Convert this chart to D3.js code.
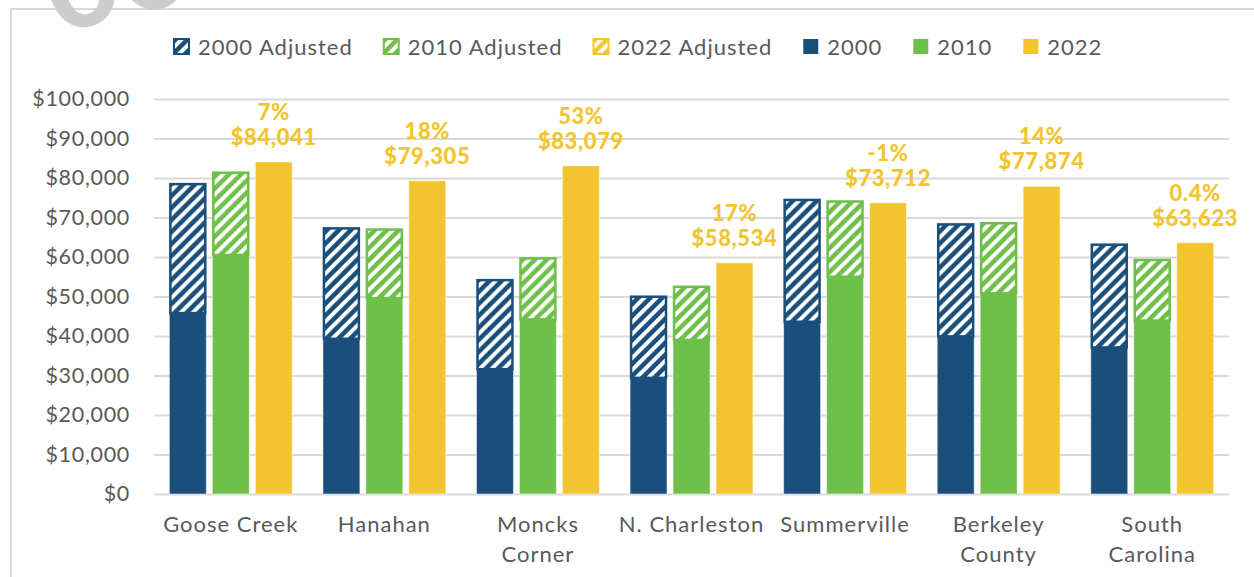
<!DOCTYPE html>
<html>
<head>
<meta charset="utf-8">
<script src="https://cdn.jsdelivr.net/npm/d3@7"></script>
<style>
  body { margin: 0; background: #fff; }
  svg { display: block; font-family: Lato, "Open Sans", sans-serif; }
</style>
</head>
<body>
<div id="chart"></div>
<script>
// data
var categories = ["Goose Creek", "Hanahan", "Moncks Corner", "N. Charleston", "Summerville", "Berkeley County", "South Carolina"];
var nominal2000 = [45800, 39300, 31600, 29400, 43600, 39900, 37100];
var adjusted2000 = [78700, 67500, 54400, 50200, 74700, 68500, 63370];
var nominal2010 = [60500, 49600, 44200, 39000, 55000, 50800, 43900];
var adjusted2010 = [81600, 67200, 59900, 52700, 74300, 68800, 59500];
var value2022 = [84041, 79305, 83079, 58534, 73712, 77874, 63623];
var changeLabels = ["7%", "18%", "53%", "17%", "-1%", "14%", "0.4%"];
var yTicks = [0, 10000, 20000, 30000, 40000, 50000, 60000, 70000, 80000, 90000, 100000];
var seriesKeys = ["2000", "2010", "2022"];
var legendKeys = ["2000 Adjusted", "2010 Adjusted", "2022 Adjusted", "2000", "2010", "2022"];

var colors = {"2000": "#1a4e7b", "2010": "#6fbf4b", "2022": "#f2c52e"};
var gridColor = "#d9d9d9";
var textColor = "#595959";

var svg = d3.select("#chart")
  .append("svg")
  .attr("width", 1254)
  .attr("height", 577);

// hatch patterns, one per colour
var defs = svg.append("defs");
seriesKeys.forEach(function(k) {
  var p = defs.append("pattern")
    .attr("id", "hatch" + k)
    .attr("patternUnits", "userSpaceOnUse")
    .attr("width", 12)
    .attr("height", 12);
  p.append("rect").attr("width", 12).attr("height", 12).attr("fill", colors[k]);
  p.append("path")
    .attr("d", "M-3,3 l6,-6 M0,12 l12,-12 M9,15 l6,-6")
    .attr("stroke", "#fff")
    .attr("stroke-width", 4);
});

// outer frame
svg.append("rect")
  .attr("x", 11).attr("y", 9)
  .attr("width", 1300).attr("height", 600)
  .attr("fill", "none")
  .attr("stroke", gridColor)
  .attr("stroke-width", 2);

var x0 = d3.scaleBand()
  .domain(categories)
  .range([154, 1229])
  .paddingInner(0.2)
  .paddingOuter(0.1);

var x1 = d3.scaleBand()
  .domain(seriesKeys)
  .range([0, x0.bandwidth()])
  .paddingInner(0.14);

var y = d3.scaleLinear()
  .domain([0, 100000])
  .range([494, 99]);

// gridlines + y labels
var yAxis = svg.append("g")
  .attr("transform", "translate(154,0)")
  .call(d3.axisLeft(y)
    .tickValues(yTicks)
    .tickSize(-(1229 - 154))
    .tickPadding(24)
    .tickFormat(function(d) { return "$" + d3.format(",")(d); }));
yAxis.select(".domain").remove();
yAxis.selectAll(".tick line").attr("stroke", gridColor).attr("stroke-width", 2);
yAxis.selectAll(".tick text")
  .attr("fill", textColor)
  .attr("font-size", 21.5)
  .attr("letter-spacing", 0.7)
  .attr("font-family", "Lato, sans-serif");

// bar data
var rows = categories.map(function(c, i) {
  return {
    cat: c,
    bars: [
      {key: "2000", nominal: nominal2000[i], adjusted: adjusted2000[i]},
      {key: "2010", nominal: nominal2010[i], adjusted: adjusted2010[i]},
      {key: "2022", nominal: value2022[i], adjusted: value2022[i]}
    ]
  };
});

var groups = svg.selectAll("g.grp")
  .data(rows)
  .enter()
  .append("g")
  .attr("class", "grp")
  .attr("transform", function(d) { return "translate(" + x0(d.cat) + ",0)"; });

// solid part
groups.selectAll("rect.solid")
  .data(function(d) { return d.bars; })
  .enter()
  .append("rect")
  .attr("class", "solid")
  .attr("x", function(d) { return x1(d.key); })
  .attr("width", x1.bandwidth())
  .attr("y", function(d) { return y(d.nominal); })
  .attr("height", function(d) { return y(0) - y(d.nominal); })
  .attr("fill", function(d) { return colors[d.key]; })
  .attr("stroke", "#fff")
  .attr("stroke-opacity", 0.5)
  .attr("stroke-width", 1);

// hatched (inflation-adjusted) part
groups.selectAll("rect.adj")
  .data(function(d) { return d.bars.filter(function(b) { return b.adjusted > b.nominal; }); })
  .enter()
  .append("rect")
  .attr("class", "adj")
  .attr("x", function(d) { return x1(d.key) + 1; })
  .attr("width", x1.bandwidth() - 2)
  .attr("y", function(d) { return y(d.adjusted) + 1; })
  .attr("height", function(d) { return y(d.nominal) - y(d.adjusted) - 1; })
  .attr("fill", function(d) { return "url(#hatch" + d.key + ")"; })
  .attr("stroke", function(d) { return colors[d.key]; })
  .attr("stroke-width", 2.5);

// labels above 2022 bars
groups.append("text")
  .attr("x", x1("2022") + x1.bandwidth() / 2)
  .attr("y", function(d, i) { return y(value2022[i]) - 17; })
  .attr("text-anchor", "middle")
  .attr("font-size", 22)
  .attr("font-weight", 900)
  .attr("letter-spacing", 0.6)
  .attr("fill", colors["2022"])
  .text(function(d, i) { return "$" + d3.format(",")(value2022[i]); });

groups.append("text")
  .attr("x", x1("2022") + x1.bandwidth() / 2)
  .attr("y", function(d, i) { return y(value2022[i]) - 42; })
  .attr("text-anchor", "middle")
  .attr("font-size", 22)
  .attr("font-weight", 900)
  .attr("letter-spacing", 0.6)
  .attr("fill", colors["2022"])
  .text(function(d, i) { return changeLabels[i]; });

// category labels (wrap two-word names, except short ones)
var singleLine = ["Goose Creek", "N. Charleston"];
groups.each(function(d) {
  var g = d3.select(this);
  var lines = singleLine.indexOf(d.cat) >= 0 ? [d.cat] : d.cat.split(" ");
  var t = g.append("text")
    .attr("text-anchor", "middle")
    .attr("font-size", 22)
    .attr("letter-spacing", 1)
    .attr("fill", textColor);
  lines.forEach(function(l, j) {
    t.append("tspan")
      .attr("x", x0.bandwidth() / 2)
      .attr("y", 532 + j * 30)
      .text(l);
  });
});

// legend
var legend = svg.append("g").attr("transform", "translate(174,47)");
var lx = 0;
legendKeys.forEach(function(k) {
  var base = k.split(" ")[0];
  var adj = k.indexOf("Adjusted") >= 0;
  var item = legend.append("g").attr("transform", "translate(" + lx + ",0)");
  item.append("rect")
    .attr("x", 0).attr("y", -8)
    .attr("width", 15).attr("height", 15)
    .attr("fill", adj ? "url(#hatch" + base + ")" : colors[base])
    .attr("stroke", adj ? colors[base] : "none")
    .attr("stroke-width", adj ? 2 : 0);
  var t = item.append("text")
    .attr("x", 24).attr("y", 8)
    .attr("font-size", 22)
    .attr("letter-spacing", 1)
    .attr("fill", textColor)
    .text(k);
  lx += 24 + t.node().getComputedTextLength() + 31;
});

// grey watermark remnant cut by the top edge
svg.append("text")
  .attr("x", 56).attr("y", 34)
  .attr("font-size", 125)
  .attr("font-weight", 700)
  .attr("fill", "#cccccc")
  .attr("transform", "rotate(-14,56,34)")
  .text("00");
</script>
</body>
</html>
